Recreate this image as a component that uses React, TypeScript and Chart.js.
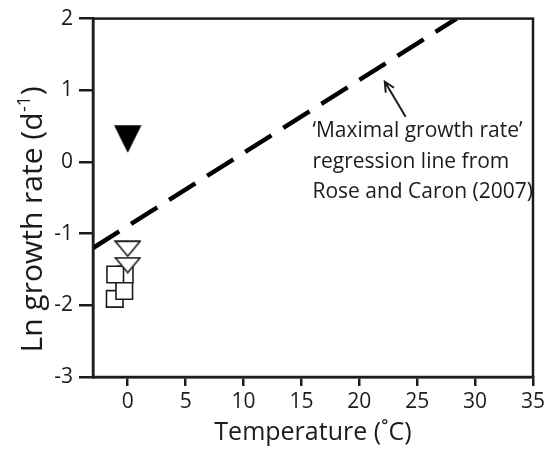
import React, { useEffect, useRef } from "react";
import { Chart, registerables } from "chart.js";

Chart.register(...registerables);

// ---- data ----
const X_MIN = -3;
const X_MAX = 35;
const Y_MIN = -3;
const Y_MAX = 2;
const X_TICKS = [0, 5, 10, 15, 20, 25, 30, 35];

const REGRESSION_X = [-3, 28.4];
const REGRESSION_Y = [-1.2, 2.0];

const FILLED_TRI_X = [0];
const FILLED_TRI_Y = [0.32];

const OPEN_TRI_X = [0, 0];
const OPEN_TRI_Y = [-1.21, -1.44];

const SQUARE_X = [-0.26, -1.12, -1.08, -0.3];
const SQUARE_Y = [-1.57, -1.91, -1.57, -1.8];

const ANNOTATION_LINES = ["\u2018Maximal growth rate\u2019", "regression line from", "Rose and Caron (2007)"];
const ANNOTATION_X = 15.95;
const ANNOTATION_Y = [0.352, -0.078, -0.507];
const ARROW_FROM = [24.0, 0.63];
const ARROW_TO = [22.2, 1.12];

const X_TITLE = "Temperature (\u02DAC)";
const Y_TITLE_MAIN = "Ln growth rate (d";
const Y_TITLE_SUP = "-1";
const Y_TITLE_END = ")";

const FONT = "'Open Sans', Lato, sans-serif";
const INK = "#1c1c1c";

function makeTriangle(w: number, h: number, fill: string, stroke: string, lw: number) {
  const c = document.createElement("canvas");
  c.width = w;
  c.height = h;
  const ctx = c.getContext("2d")!;
  const i = lw / 2 + 0.3;
  ctx.beginPath();
  ctx.moveTo(i, i);
  ctx.lineTo(w - i, i);
  ctx.lineTo(w / 2, h - i);
  ctx.closePath();
  ctx.fillStyle = fill;
  ctx.fill();
  if (lw > 0) {
    ctx.lineWidth = lw;
    ctx.strokeStyle = stroke;
    ctx.lineJoin = "miter";
    ctx.stroke();
  }
  return c;
}

const overlayPlugin = {
  id: "overlay",
  afterDatasetsDraw(chart: any) {
    const { ctx, scales } = chart;
    const xs = scales.x;
    const ys = scales.y;
    ctx.save();
    // annotation text
    ctx.fillStyle = INK;
    ctx.font = `21px ${FONT}`;
    ctx.textAlign = "left";
    ctx.textBaseline = "alphabetic";
    ANNOTATION_LINES.forEach((t, i) => {
      ctx.fillText(t, xs.getPixelForValue(ANNOTATION_X), ys.getPixelForValue(ANNOTATION_Y[i]));
    });
    // arrow
    const x0 = xs.getPixelForValue(ARROW_FROM[0]);
    const y0 = ys.getPixelForValue(ARROW_FROM[1]);
    const x1 = xs.getPixelForValue(ARROW_TO[0]);
    const y1 = ys.getPixelForValue(ARROW_TO[1]);
    ctx.strokeStyle = INK;
    ctx.lineWidth = 2;
    ctx.beginPath();
    ctx.moveTo(x0, y0);
    ctx.lineTo(x1, y1);
    const ang = Math.atan2(y1 - y0, x1 - x0);
    const hl = 11;
    ctx.moveTo(x1 - hl * Math.cos(ang - 0.45), y1 - hl * Math.sin(ang - 0.45));
    ctx.lineTo(x1, y1);
    ctx.lineTo(x1 - hl * Math.cos(ang + 0.45), y1 - hl * Math.sin(ang + 0.45));
    ctx.stroke();
    ctx.restore();
  },
  afterDraw(chart: any) {
    const { ctx, chartArea } = chart;
    ctx.save();
    ctx.strokeStyle = INK;
    ctx.lineWidth = 2.5;
    ctx.strokeRect(chartArea.left, chartArea.top, chartArea.right - chartArea.left, chartArea.bottom - chartArea.top);
    // y-axis title with superscript
    ctx.fillStyle = INK;
    ctx.translate(42, 219.5);
    ctx.rotate(-Math.PI / 2);
    ctx.textBaseline = "alphabetic";
    ctx.textAlign = "left";
    const mainFont = `30px ${FONT}`;
    const supFont = `18px ${FONT}`;
    ctx.font = mainFont;
    const w1 = ctx.measureText(Y_TITLE_MAIN).width;
    const w3 = ctx.measureText(Y_TITLE_END).width;
    ctx.font = supFont;
    const w2 = ctx.measureText(Y_TITLE_SUP).width;
    const total = w1 + w2 + w3 + 1;
    let px = -total / 2;
    ctx.font = mainFont;
    ctx.fillText(Y_TITLE_MAIN, px, 0);
    px += w1;
    ctx.font = supFont;
    ctx.fillText(Y_TITLE_SUP, px + 0.5, -12);
    px += w2 + 1;
    ctx.font = mainFont;
    ctx.fillText(Y_TITLE_END, px, 0);
    ctx.restore();
  },
};

export default function App() {
  const ref = useRef<HTMLCanvasElement | null>(null);

  useEffect(() => {
    if (!ref.current) return;
    const openTri = makeTriangle(27, 17, "#ffffff", INK, 1.6);
    const filledTri = makeTriangle(28, 28, "#000000", "#000000", 0);

    const chart = new Chart(ref.current, {
      type: "scatter",
      data: {
        datasets: [
          {
            label: "filled",
            data: FILLED_TRI_X.map((x, i) => ({ x, y: FILLED_TRI_Y[i] })),
            pointStyle: filledTri as any,
            pointRadius: 12,
            showLine: false,
          },
          {
            label: "open triangles",
            data: OPEN_TRI_X.map((x, i) => ({ x, y: OPEN_TRI_Y[i] })),
            pointStyle: openTri as any,
            pointRadius: 12,
            showLine: false,
          },
          {
            label: "squares",
            data: SQUARE_X.map((x, i) => ({ x, y: SQUARE_Y[i] })),
            pointStyle: "rect",
            pointRadius: 11.7,
            backgroundColor: "#ffffff",
            borderColor: INK,
            borderWidth: 1.6,
            showLine: false,
          },
          {
            label: "regression",
            type: "line",
            data: REGRESSION_X.map((x, i) => ({ x, y: REGRESSION_Y[i] })),
            borderColor: "#000000",
            borderWidth: 4.5,
            borderDash: [31, 14],
            borderCapStyle: "butt",
            pointRadius: 0,
            fill: false,
            showLine: true,
          } as any,
        ],
      },
      options: {
        responsive: false,
        animation: false,
        events: [],
        layout: { padding: { left: 0, top: 16, right: 21, bottom: 0 } },
        plugins: { legend: { display: false }, tooltip: { enabled: false } },
        scales: {
          x: {
            type: "linear",
            min: X_MIN,
            max: X_MAX,
            afterBuildTicks: (axis: any) => {
              axis.ticks = X_TICKS.map((v) => ({ value: v }));
            },
            afterFit: (scale: any) => {
              scale.height = 75;
            },
            grid: {
              display: true,
              drawOnChartArea: false,
              drawTicks: true,
              tickLength: 9,
              color: INK,
              lineWidth: 2.5,
            },
            border: { display: true, color: INK, width: 2.5 },
            ticks: {
              color: INK,
              font: { family: FONT, size: 21 },
              padding: 3,
              maxRotation: 0,
              autoSkip: false,
            },
            title: {
              display: true,
              text: X_TITLE,
              color: INK,
              font: { family: FONT, size: 25 },
              padding: { top: 0, bottom: 4 },
            },
          },
          y: {
            type: "linear",
            min: Y_MIN,
            max: Y_MAX,
            afterFit: (scale: any) => {
              scale.width = 93;
            },
            grid: {
              display: true,
              drawOnChartArea: false,
              drawTicks: true,
              tickLength: 14,
              color: INK,
              lineWidth: 2.5,
            },
            border: { display: true, color: INK, width: 2.5 },
            ticks: {
              color: INK,
              stepSize: 1,
              font: { family: FONT, size: 21 },
              padding: 6,
            },
          },
        },
      },
      plugins: [overlayPlugin],
    });
    return () => chart.destroy();
  }, []);

  return (
    <div style={{ position: "absolute", left: 0, top: 0, width: 554, height: 452, background: "#fff" }}>
      <canvas ref={ref} width={554} height={452} style={{ display: "block" }} />
    </div>
  );
}
